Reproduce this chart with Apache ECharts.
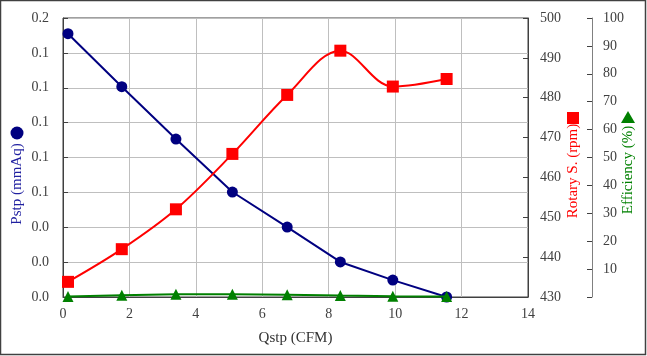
<!DOCTYPE html>
<html>
<head>
<meta charset="utf-8">
<script src="https://cdn.jsdelivr.net/npm/echarts@6/dist/echarts.min.js"></script>
<style>html,body{margin:0;padding:0;background:#fff}#c{width:647px;height:356px}</style>
</head>
<body>
<div id="c"></div>
<script>
var qstp = [0.15, 1.77, 3.4, 5.1, 6.75, 8.35, 9.93, 11.55];
var pstp = [0.151, 0.1206, 0.0906, 0.0602, 0.0401, 0.0201, 0.0097, 0.0];
var rotary = [433.8, 442.0, 452.0, 465.9, 480.7, 491.8, 482.8, 484.7];
var efficiency = [0.2, 0.6, 1.0, 1.0, 0.8, 0.5, 0.3, 0.2];
var xTicks = [0, 2, 4, 6, 8, 10, 12, 14];

function pairs(xs, ys) { return xs.map(function (x, i) { return [x, ys[i]]; }); }

var font = 'Liberation Serif';
var chart = echarts.init(document.getElementById('c'));
chart.setOption({
  animation: false,
  grid: { left: 63, right: 119, top: 18, bottom: 59, show: true, borderColor: '#404040', borderWidth: 1 },
  xAxis: {
    type: 'value', min: xTicks[0], max: xTicks[xTicks.length - 1], interval: 2,
    name: 'Qstp (CFM)', nameLocation: 'middle', nameGap: 34,
    nameTextStyle: { fontFamily: font, fontSize: 15, color: '#333' },
    axisLine: { lineStyle: { color: '#404040' } },
    axisTick: { show: false },
    axisLabel: { fontFamily: font, fontSize: 14, color: '#404040', margin: 10 },
    splitLine: { show: true, lineStyle: { color: '#BFBFBF' } }
  },
  yAxis: [
    {
      type: 'value', min: 0, max: 0.16, interval: 0.02, position: 'left',
      axisLine: { show: true, lineStyle: { color: '#404040' } },
      axisTick: { show: true, inside: true, length: 5, lineStyle: { color: '#404040' } },
      axisLabel: { fontFamily: font, fontSize: 14, color: '#404040', margin: 14, formatter: function (v) { return v.toFixed(1); } },
      splitLine: { show: true, lineStyle: { color: '#BFBFBF' } }
    },
    {
      type: 'value', min: 430, max: 500, interval: 10, position: 'right',
      axisLine: { show: true, lineStyle: { color: '#404040' } },
      axisTick: { show: true, inside: true, length: 5, lineStyle: { color: '#404040' } },
      axisLabel: { fontFamily: font, fontSize: 14, color: '#404040', margin: 12 },
      splitLine: { show: false }
    },
    {
      type: 'value', min: 0, max: 100, interval: 10, position: 'right', offset: 64,
      axisLine: { show: true, lineStyle: { color: '#808080' } },
      axisTick: { show: true, inside: true, length: 5, lineStyle: { color: '#404040' } },
      axisLabel: { fontFamily: font, fontSize: 14, color: '#404040', margin: 11, formatter: function (v) { return v === 0 ? '' : String(v); } },
      splitLine: { show: false }
    }
  ],
  series: [
    {
      type: 'line', yAxisIndex: 0, data: pairs(qstp, pstp),
      symbol: 'circle', symbolSize: 11,
      lineStyle: { color: '#000080', width: 2 }, itemStyle: { color: '#000080' }, z: 3
    },
    {
      type: 'line', yAxisIndex: 1, data: pairs(qstp, rotary), smooth: 0.35,
      symbol: 'rect', symbolSize: 12,
      lineStyle: { color: '#FF0000', width: 2 }, itemStyle: { color: '#FF0000' }, z: 4
    },
    {
      type: 'line', yAxisIndex: 2, data: pairs(qstp, efficiency),
      symbol: 'triangle', symbolSize: 11,
      lineStyle: { color: '#008000', width: 2 }, itemStyle: { color: '#008000' }, z: 5
    }
  ],
  graphic: [
    { type: 'rect', shape: { x: 0.5, y: 0.5, width: 645, height: 354 }, style: { fill: null, stroke: '#404040', lineWidth: 1.5 }, silent: true },
    { type: 'text', x: 17, y: 184, rotation: Math.PI / 2, style: { text: 'Pstp (mmAq)', font: '15px "Liberation Serif"', fill: '#2020A0', align: 'center', verticalAlign: 'middle' } },
    { type: 'circle', shape: { cx: 17, cy: 133, r: 6.5 }, style: { fill: '#000080' } },
    { type: 'text', x: 573, y: 171, rotation: Math.PI / 2, style: { text: 'Rotary S. (rpm)', font: '15px "Liberation Serif"', fill: '#FF0000', align: 'center', verticalAlign: 'middle' } },
    { type: 'rect', shape: { x: 567, y: 112, width: 12, height: 12 }, style: { fill: '#FF0000' } },
    { type: 'text', x: 628, y: 170, rotation: Math.PI / 2, style: { text: 'Efficiency (%)', font: '15px "Liberation Serif"', fill: '#008000', align: 'center', verticalAlign: 'middle' } },
    { type: 'polygon', shape: { points: [[628, 111], [635, 123], [621, 123]] }, style: { fill: '#008000' } }
  ]
});
</script>
</body>
</html>
